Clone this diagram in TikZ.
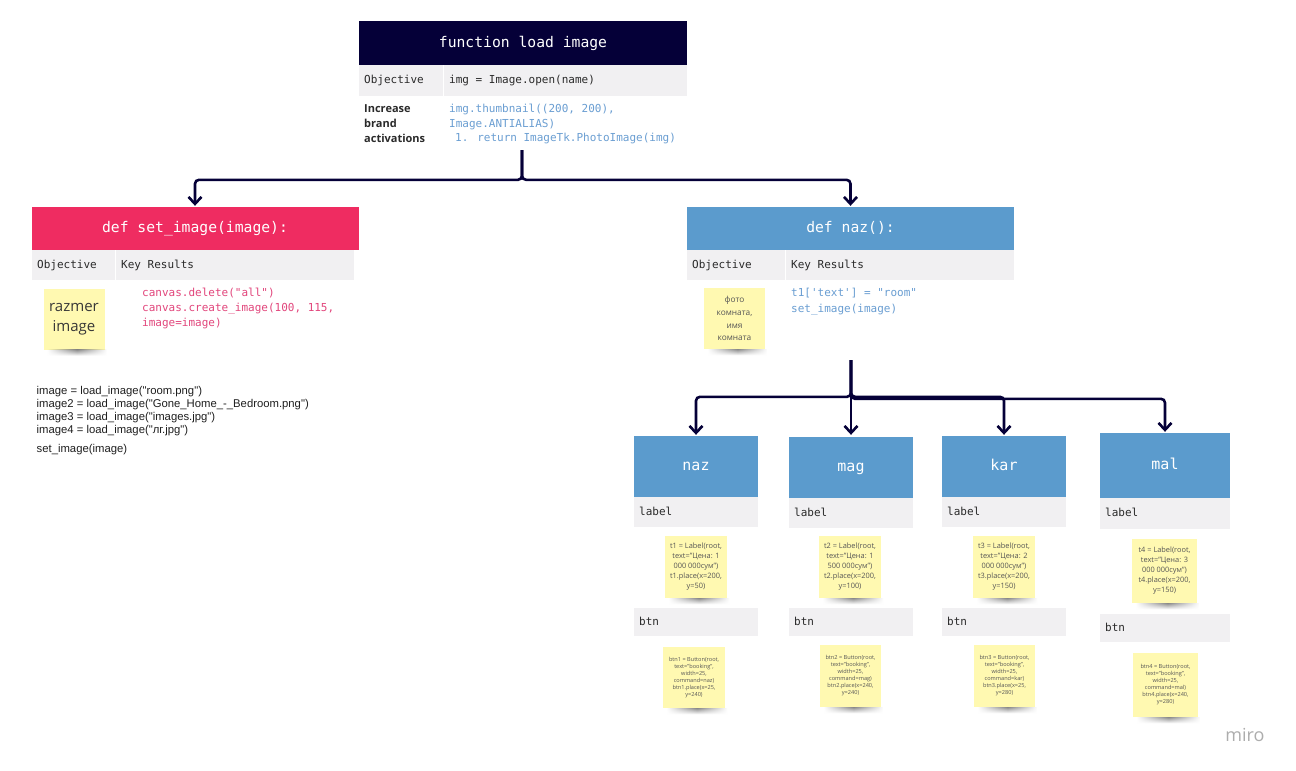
\documentclass[tikz,border=0pt]{standalone}
\usepackage{fontspec}
\setmainfont{Open Sans}
\newfontfamily\codefont{DejaVu Sans Mono}
\newfontfamily\arialfont{Liberation Sans}
\usetikzlibrary{arrows.meta,calc,fadings}
\definecolor{navy}{HTML}{050038}
\definecolor{pinkhdr}{HTML}{EF2C61}
\definecolor{bluehdr}{HTML}{5B9BCD}
\definecolor{rowgray}{HTML}{F1F0F2}
\definecolor{stickyy}{HTML}{FFF9B1}
\definecolor{codeblue}{HTML}{6A9ED2}
\definecolor{codepink}{HTML}{E2467C}
\definecolor{txtdark}{HTML}{2A2A2A}
\definecolor{stickytxt}{HTML}{555555}
\tikzfading[name=sidefade, left color=transparent!100, right color=transparent!100, middle color=transparent!0]
\begin{document}
\begin{tikzpicture}[x=1pt,y=-1pt,
  hdr/.style={inner sep=0pt, text=white, font=\codefont\fontsize{14.7}{16}\selectfont, text height=8pt, text depth=0pt},
  colhdr/.style={hdr, fill=bluehdr, font=\codefont\fontsize{15}{16}\selectfont},
  cellbox/.style={fill=rowgray, anchor=north west, inner sep=0pt},
  celltxt/.style={anchor=west, inner sep=0pt, text=txtdark, font=\codefont\fontsize{11}{13}\selectfont, text height=6pt, text depth=0pt},
  codeln/.style={anchor=base west, inner sep=0pt, font=\codefont\fontsize{11}{13}\selectfont},
  boldln/.style={anchor=base west, inner sep=0pt, text=txtdark, font=\bfseries\fontsize{11}{13}\selectfont},
  arln/.style={anchor=base west, inner sep=0pt, text=black!88, font=\arialfont\fontsize{11.3}{13}\selectfont},
  stk/.style={fill=stickyy, inner sep=0pt, align=center, text=stickytxt},
  stkl/.style={stk, font=\fontsize{7.4}{10}\selectfont},
  stkb/.style={stk, font=\fontsize{5.6}{7}\selectfont},
  conn/.style={draw=navy, line width=2.6pt, rounded corners=4pt, -{Straight Barb[length=7pt,width=13pt]}},
  stkshadow/.style={top color=black!45, bottom color=white, path fading=sidefade},
]
\useasboundingbox (0,0) rectangle (1296,771);
\fill[white] (0,0) rectangle (1296,771);

% ---------- top box ----------
\node[hdr, fill=navy, minimum width=328, minimum height=44] (fl) at (523,43) {function load image};
\node[cellbox, minimum width=84, minimum height=31] (flc1) at (359,65) {};
\node[cellbox, minimum width=243, minimum height=31] (flc2) at (444,65) {};
\node[celltxt] (flt1) at ($(flc1.west)+(5,0)$) {Objective};
\node[celltxt] (flt2) at ($(flc2.west)+(5,0)$) {img = Image.open(name)};
\node[boldln] (flb1) at (364,112) {Increase};
\node[boldln] (flb2) at (364,127) {brand};
\node[boldln] (flb3) at (364,142) {activations};
\node[codeln, text=codeblue] (flk1) at (449,112) {img.thumbnail((200, 200),};
\node[codeln, text=codeblue] (flk2) at (449,127) {Image.ANTIALIAS)};
\node[codeln, text=codeblue] (flk3) at (455,141) {1. return ImageTk.PhotoImage(img)};
\coordinate (tsrc) at (522,150);

% ---------- set_image box ----------
\node[hdr, fill=pinkhdr, minimum width=327, minimum height=43] (si) at (195,228.5) {def set\_image(image):};
\node[cellbox, minimum width=83, minimum height=30] (sic1) at (32,250) {};
\node[cellbox, minimum width=238, minimum height=30] (sic2) at (116,250) {};
\node[celltxt] (sit1) at ($(sic1.west)+(5,0)$) {Objective};
\node[celltxt] (sit2) at ($(sic2.west)+(5,0)$) {Key Results};
\node[stk, minimum width=61, minimum height=61, text=black!78, font=\fontsize{15}{20}\selectfont] (sis) at (74,319) {razmer\\image};
\node[codeln, text=codepink] (sik1) at (142,296) {canvas.delete("all")};
\node[codeln, text=codepink] (sik2) at (142,311) {canvas.create\_image(100, 115,};
\node[codeln, text=codepink] (sik3) at (142,326) {image=image)};

% ---------- naz box ----------
\node[hdr, fill=bluehdr, minimum width=327, minimum height=43] (nz) at (850.5,228.5) {def naz():};
\node[cellbox, minimum width=98, minimum height=30] (nzc1) at (687,250) {};
\node[cellbox, minimum width=228, minimum height=30] (nzc2) at (786,250) {};
\node[celltxt] (nzt1) at ($(nzc1.west)+(5,0)$) {Objective};
\node[celltxt] (nzt2) at ($(nzc2.west)+(5,0)$) {Key Results};
\node[stk, minimum width=61, minimum height=61, font=\fontsize{8.3}{12.8}\selectfont] (nzs) at (734.5,318.5) {фото\\комната,\\имя\\комната};
\node[codeln, text=codeblue] (nzk1) at (791,296) {t1['text'] = "room"};
\node[codeln, text=codeblue] (nzk2) at (791,312) {set\_image(image)};
\coordinate (bsrc) at (851,360);

% ---------- left code text ----------
\node[arln] (l1) at (36.5,394) {image = load\_image("room.png")};
\node[arln] (l2) at (36.5,407) {image2 = load\_image("Gone\_Home\_-\_Bedroom.png")};
\node[arln] (l3) at (36.5,420) {image3 = load\_image("images.jpg")};
\node[arln] (l4) at (36.5,433) {image4 = load\_image("лг.jpg")};
\node[arln] (l5) at (36.5,452) {set\_image(image)};

% ---------- columns ----------
% naz
\node[colhdr, minimum width=124, minimum height=61] (c1) at (696,466.5) {naz};
\node[cellbox, minimum width=124, minimum height=30] (c1l) at (634,497) {};
\node[celltxt] (c1lt) at ($(c1l.west)+(5,0)$) {label};
\node[stkl, minimum width=62, minimum height=62] (c1s1) at (696,567) {t1 = Label(root,\\text="Цена: 1\\000 000сум")\\t1.place(x=200,\\y=50)};
\node[cellbox, minimum width=124, minimum height=28] (c1b) at (634,608) {};
\node[celltxt] (c1bt) at ($(c1b.west)+(5,0)$) {btn};
\node[stkb, minimum width=62, minimum height=61] (c1s2) at (694,677.5) {btn1 = Button(root,\\text="booking",\\width=25,\\command=naz)\\btn1.place(x=25,\\y=240)};
% mag
\node[colhdr, minimum width=124, minimum height=61] (c2) at (851,467.5) {mag};
\node[cellbox, minimum width=124, minimum height=30] (c2l) at (789,498) {};
\node[celltxt] (c2lt) at ($(c2l.west)+(5,0)$) {label};
\node[stkl, minimum width=62, minimum height=62] (c2s1) at (850,567) {t2 = Label(root,\\text="Цена: 1\\500 000сум")\\t2.place(x=200,\\y=100)};
\node[cellbox, minimum width=124, minimum height=28] (c2b) at (789,608) {};
\node[celltxt] (c2bt) at ($(c2b.west)+(5,0)$) {btn};
\node[stkb, minimum width=61, minimum height=62] (c2s2) at (850.5,676) {btn2 = Button(root,\\text="booking",\\width=25,\\command=mag)\\btn2.place(x=240,\\y=240)};
% kar
\node[colhdr, minimum width=124, minimum height=61] (c3) at (1004,466.5) {kar};
\node[cellbox, minimum width=124, minimum height=30] (c3l) at (942,497) {};
\node[celltxt] (c3lt) at ($(c3l.west)+(5,0)$) {label};
\node[stkl, minimum width=62, minimum height=62] (c3s1) at (1004,567) {t3 = Label(root,\\text="Цена: 2\\000 000сум")\\t3.place(x=200,\\y=150)};
\node[cellbox, minimum width=124, minimum height=28] (c3b) at (942,608) {};
\node[celltxt] (c3bt) at ($(c3b.west)+(5,0)$) {btn};
\node[stkb, minimum width=61, minimum height=62] (c3s2) at (1004.5,676) {btn3 = Button(root,\\text="booking",\\width=25,\\command=kar)\\btn3.place(x=25,\\y=280)};
% mal
\node[colhdr, minimum width=130, minimum height=65] (c4) at (1165,465.5) {mal};
\node[cellbox, minimum width=130, minimum height=31] (c4l) at (1100,498) {};
\node[celltxt] (c4lt) at ($(c4l.west)+(5,0)$) {label};
\node[stkl, minimum width=65, minimum height=64] (c4s1) at (1164.5,571) {t4 = Label(root,\\text="Цена: 3\\000 000сум")\\t4.place(x=200,\\y=150)};
\node[cellbox, minimum width=130, minimum height=28] (c4b) at (1100,614) {};
\node[celltxt] (c4bt) at ($(c4b.west)+(5,0)$) {btn};
\node[stkb, minimum width=65, minimum height=64] (c4s2) at (1165.5,685) {btn4 = Button(root,\\text="booking",\\width=25,\\command=mal)\\btn4.place(x=240,\\y=280)};

% sticky shadows
\foreach \n in {sis,nzs,c1s1,c1s2,c2s1,c2s2,c3s1,c3s2,c4s1,c4s2}{
  \shade[stkshadow] ($(\n.south west)+(4,0)$) rectangle ($(\n.south east)+(2,6)$);
}

% ---------- connectors ----------
\draw[conn] (tsrc) |- ($(si.north)+(0,-27)$) -- ($(si.north)+(0,-1)$);
\draw[conn] (tsrc) |- ($(nz.north)+(0,-27)$) -- ($(nz.north)+(0,-1)$);
\draw[conn] (bsrc) |- ($(c1.north)+(0,-39)$) -- ($(c1.north)+(0,-1)$);
\draw[conn] (bsrc) -- ($(c2.north)+(0,-2)$);
\draw[conn] (bsrc) |- ($(c3.north)+(0,-39)$) -- ($(c3.north)+(0,-1)$);
\draw[conn] (bsrc) |- ($(c4.north)+(0,-34)$) -- ($(c4.north)+(0,-1)$);

% watermark
\node[inner sep=0pt, text=black!32, font=\fontsize{18}{19}\selectfont] (miro) at (1245,735) {miro};
\end{tikzpicture}
\end{document}
